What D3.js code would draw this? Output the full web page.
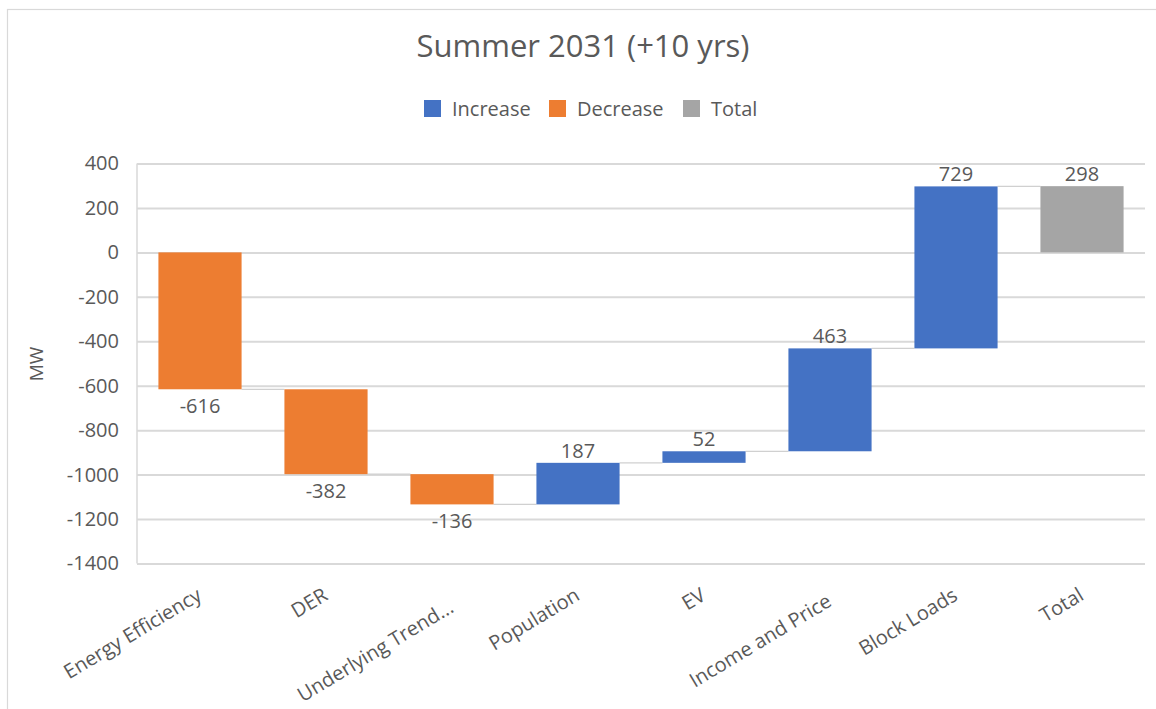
<!DOCTYPE html>
<html>
<head>
<meta charset="utf-8">
<script src="https://cdn.jsdelivr.net/npm/d3@7"></script>
<style>
  html, body { margin: 0; padding: 0; background: #ffffff; }
  svg { display: block; font-family: "Open Sans", "Noto Sans", sans-serif; }
</style>
</head>
<body>
<svg id="chart" width="1156" height="709"></svg>
<script>
// Load-forecast bridge: contribution of each driver, then the net total
const categories = ["Energy Efficiency", "DER", "Underlying Trend...", "Population", "EV", "Income and Price", "Block Loads", "Total"];
const deltas = [-616, -382, -136, 187, 52, 463, 729];
const totalValue = 298;
const yTicks = [400, 200, 0, -200, -400, -600, -800, -1000, -1200, -1400];
const legendItems = ["Increase", "Decrease", "Total"];
const legendColors = ["#4472C4", "#ED7D31", "#A5A5A5"];
const titleText = "Summer 2031 (+10 yrs)";
const yAxisTitle = "MW";

const textColor = "#595959";
const gridColor = "#d9d9d9";

const svg = d3.select("#chart");

// Chart frame
svg.append("rect")
  .attr("x", 7.5).attr("y", 9.5)
  .attr("width", 1170).attr("height", 720)
  .attr("fill", "#ffffff")
  .attr("stroke", "#d9d9d9").attr("stroke-width", 1.2);

const plot = { left: 137, right: 1145, top: 163.5, bottom: 563.5 };

const x = d3.scaleBand()
  .domain(categories)
  .range([plot.left, plot.right])
  .paddingInner(0.34)
  .paddingOuter(0.17);

const y = d3.scaleLinear()
  .domain([-1400, 400])
  .range([plot.bottom, plot.top]);

// Waterfall segments
const steps = [];
let running = 0;
deltas.forEach((d, i) => {
  const start = running;
  running += d;
  steps.push({ cat: categories[i], start, end: running, value: d, kind: d >= 0 ? 0 : 1 });
});
steps.push({ cat: categories[categories.length - 1], start: 0, end: totalValue, value: totalValue, kind: 2 });

// Gridlines and value axis
const yAxis = d3.axisLeft(y)
  .tickValues(yTicks)
  .tickFormat(d => String(d))
  .tickSize(-(plot.right - plot.left))
  .tickPadding(18);
const gAxis = svg.append("g")
  .attr("transform", `translate(${plot.left},0)`)
  .call(yAxis);
gAxis.select(".domain")
  .attr("stroke", gridColor).attr("stroke-width", 1.5)
  .attr("d", `M0,${plot.top}V${plot.bottom}`);
gAxis.selectAll(".tick line")
  .attr("stroke", gridColor).attr("stroke-width", 2);
gAxis.selectAll(".tick text")
  .attr("fill", textColor)
  .style("font-size", "20px")
  .style("font-family", "'Open Sans', sans-serif");

// Connectors between consecutive bars
const connectors = steps.slice(0, -1).map((s, i) => ({
  x1: x(s.cat) + x.bandwidth(),
  x2: x(steps[i + 1].cat),
  level: s.end
}));
svg.append("g").selectAll("line")
  .data(connectors)
  .join("line")
  .attr("x1", d => d.x1).attr("x2", d => d.x2)
  .attr("y1", d => y(d.level)).attr("y2", d => y(d.level))
  .attr("stroke", "#d0d0d0").attr("stroke-width", 1.2);

// Bars
svg.append("g").selectAll("rect")
  .data(steps)
  .join("rect")
  .attr("x", d => x(d.cat))
  .attr("width", x.bandwidth())
  .attr("y", d => y(Math.max(d.start, d.end)))
  .attr("height", d => Math.abs(y(d.start) - y(d.end)))
  .attr("fill", d => legendColors[d.kind]);

// Value labels: above rising bars, below falling ones
svg.append("g").selectAll("text")
  .data(steps)
  .join("text")
  .attr("x", d => x(d.cat) + x.bandwidth() / 2)
  .attr("y", d => d.value >= 0 ? y(Math.max(d.start, d.end)) - 5 : y(Math.min(d.start, d.end)) + 24)
  .attr("text-anchor", "middle")
  .attr("fill", textColor)
  .style("font-size", "20px")
  .text(d => d.value);

// Category labels, rotated
svg.append("g").selectAll("text")
  .data(categories)
  .join("text")
  .attr("text-anchor", "end")
  .attr("transform", (d, i) => {
    const cx = x(d) + x.bandwidth() / 2 + 3;
    const dy = (i === 2) ? 12 : (i === 5 ? 6 : 0);
    return `translate(${cx},${599 + dy}) rotate(-31)`;
  })
  .attr("fill", textColor)
  .style("font-size", "20px")
  .text(d => d);

// Title
svg.append("text")
  .attr("x", 583).attr("y", 57)
  .attr("text-anchor", "middle")
  .attr("fill", textColor)
  .style("font-size", "31px")
  .text(titleText);

// Y axis title
svg.append("text")
  .attr("transform", "translate(43,364) rotate(-90)")
  .attr("text-anchor", "middle")
  .attr("fill", textColor)
  .style("font-size", "19px")
  .text(yAxisTitle);

// Legend
const legendX = [424, 549, 683];
const lg = svg.append("g").selectAll("g")
  .data(legendItems)
  .join("g")
  .attr("transform", (d, i) => `translate(${legendX[i]},100)`);
lg.append("rect")
  .attr("width", 17).attr("height", 17)
  .attr("fill", (d, i) => legendColors[i]);
lg.append("text")
  .attr("x", 28).attr("y", 16)
  .attr("fill", textColor)
  .style("font-size", "20px")
  .text(d => d);
</script>
</body>
</html>
